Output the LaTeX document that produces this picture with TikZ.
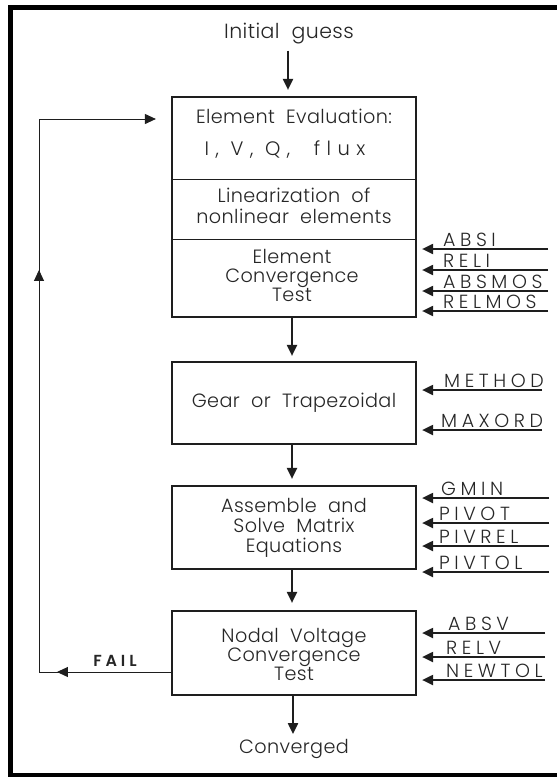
\documentclass[tikz,border=0pt]{standalone}
\usepackage{fontspec}
\setmainfont{Poppins}[UprightFont=* Light, BoldFont=* SemiBold, LetterSpace=2, WordSpace=2]
\newfontfamily\spc{Poppins}[UprightFont=* Light, BoldFont=* SemiBold, LetterSpace=24]
\newfontfamily\spcw{Poppins}[UprightFont=* Light, LetterSpace=33]
\usetikzlibrary{arrows.meta,decorations.markings}
\definecolor{ink}{HTML}{1E1E1E}
\definecolor{txt}{HTML}{262626}
\tikzset{
 box/.style={draw=ink, line width=2.2pt, minimum width=244pt, inner sep=0pt},
 btext/.style={text=txt, font=\fontsize{19.2}{19}\selectfont, align=center, inner sep=0pt},
 lbl/.style={text=txt, font=\spc\fontsize{19}{19}\selectfont, anchor=base west, inner sep=0pt},
 headstyle/.style={-{Triangle[length=11pt,width=10pt]}},
 flow/.style={draw=ink, line width=2pt, headstyle},
 inarrow/.style={draw=ink, line width=2pt, headstyle, shorten >=5pt},
 fb/.style={draw=ink, line width=1pt},
 divider/.style={draw=ink, line width=1pt},
 midarrow/.style={postaction={decorate}, decoration={markings, mark=at position #1 with {\arrow{Triangle[length=11pt,width=10pt]}}}},
}
\begin{document}
\begin{tikzpicture}[x=1pt,y=-1pt]
\useasboundingbox (0,0) rectangle (557,777);
\draw[line width=5pt, draw=black] (10.5,7.5) rectangle (600,775.5);

% boxes
\node[box, minimum height=220pt] (b1) at (294,207) {};
\node[box, minimum height=82pt] (b2) at (294,403) {};
\node[box, minimum height=83pt] (b3) at (294,527.5) {};
\node[box, minimum height=84pt] (b4) at (294,653) {};
\draw[divider] (b1.west |- 0,179) -- (b1.east |- 0,179);
\draw[divider] (b1.west |- 0,239) -- (b1.east |- 0,239);

% texts
\node[btext, font=\fontsize{20.5}{21}\selectfont] (init) at (289,34) {Initial guess};
\node[btext] (t1a) at (294,116.5) {Element Evaluation:};
\node[btext, font=\spcw\fontsize{19.5}{20}\selectfont] (t1b) at (285,150) {I, V, Q,~ flux};
\node[btext, font=\fontsize{19.2}{21}\selectfont] (t1c) at (294,205.5) {Linearization of\\nonlinear elements};
\node[btext] (t1d) at (292,275) {Element\\Convergence\\Test};
\node[btext] (t2) at (294,403) {Gear or Trapezoidal};
\node[btext, font=\fontsize{19.2}{20}\selectfont] (t3) at (294,527.5) {Assemble and\\Solve Matrix\\Equations};
\node[btext] (t4) at (294,654) {Nodal Voltage\\Convergence\\Test};
\node[btext] (conv) at (294,749) {Converged};

% flow arrows
\draw[flow, shorten <=6pt, shorten >=6pt] (init.south -| 288,0) -- (b1.north -| 288,0);
\draw[flow, shorten >=5pt] (b1.south -| 292,0) -- (b2.north -| 292,0);
\draw[flow, shorten >=6pt] (b2.south -| 292,0) -- (b3.north -| 292,0);
\draw[flow, shorten >=7pt] (b3.south -| 292,0) -- (b4.north -| 292,0);
\draw[flow, shorten >=5pt] (b4.south -| 293,0) -- (conv.north -| 293,0);

% right inputs
\foreach \t/\x/\y/\xe/\bx in {
  ABSI/443/249/548/b1, RELI/443/270/548/b1, ABSMOS/443/291/548/b1, RELMOS/443/311/548/b1,
  METHOD/444/390/542/b2, MAXORD/441/430/542/b2,
  GMIN/441/498/549/b3, PIVOT/439/523/549/b3, PIVREL/439/546/549/b3, PIVTOL/439/572/549/b3,
  ABSV/448/633/545/b4, RELV/446/657/545/b4, NEWTOL/446/680/545/b4}{
  \node[lbl] (\t) at (\x,\y-2.5) {\t};
  \coordinate (\t-e) at (\xe,\y);
  \draw[inarrow] (\t-e) -- (\bx.east |- \t-e);
}

% feedback loop
\coordinate (fbB) at (39,672);
\coordinate (fbT) at (39,119);
\draw[fb, midarrow=0.864] (b4.west |- fbB) -- (fbB);
\draw[fb, midarrow=0.727] (fbB) -- (fbT);
\draw[fb, headstyle, shorten >=15pt] (fbT) -- (b1.west |- fbT);
\node[text=txt, font=\spc\bfseries\fontsize{16}{16}\selectfont, inner sep=0pt] (fail) at (115,661) {FAIL};
\end{tikzpicture}
\end{document}
